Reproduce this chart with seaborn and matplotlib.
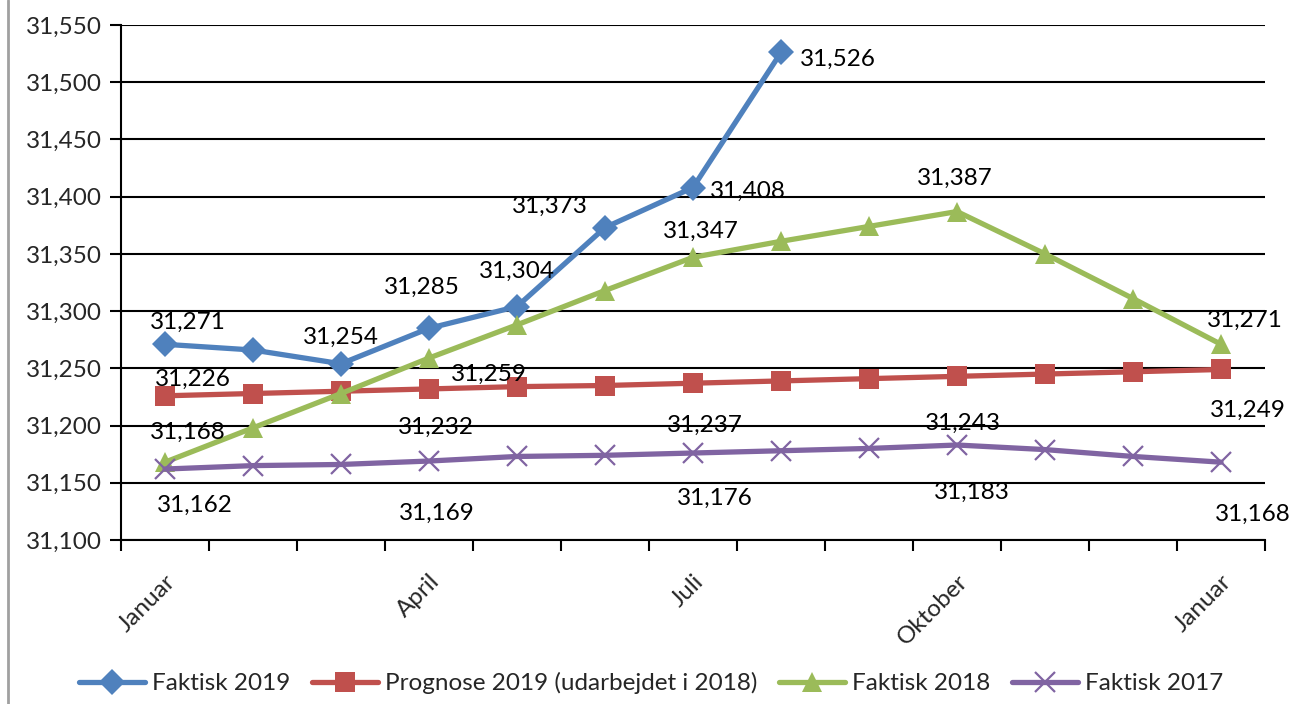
import matplotlib
matplotlib.use("Agg")
import matplotlib.pyplot as plt
import matplotlib.lines as mlines
import seaborn as sns
import pandas as pd
import numpy as np

# ---- data ----
months = ["Januar", "Februar", "Marts", "April", "Maj", "Juni", "Juli",
          "August", "September", "Oktober", "November", "December", "Januar"]
tick_label_idx = [0, 3, 6, 9, 12]

faktisk_2019 = [31271, 31266, 31254, 31285, 31304, 31373, 31408, 31526]
prognose_2019 = [31226, 31228, 31230, 31232, 31234, 31235, 31237, 31239,
                 31241, 31243, 31245, 31247, 31249]
faktisk_2018 = [31168, 31198, 31228, 31259, 31288, 31318, 31347, 31361,
                31374, 31387, 31350, 31311, 31271]
faktisk_2017 = [31162, 31165, 31166, 31169, 31173, 31174, 31176, 31178,
                31180, 31183, 31179, 31173, 31168]

series_names = ["Faktisk 2019", "Prognose 2019 (udarbejdet i 2018)",
                "Faktisk 2018", "Faktisk 2017"]

# which points carry a data label
label_idx_2019 = [0, 2, 3, 4, 5, 6, 7]
label_idx_prog = [0, 3, 6, 9, 12]
label_idx_2018 = [0, 3, 6, 9, 12]
label_idx_2017 = [0, 3, 6, 9, 12]

# ---- style / layout ----
colors = ["#4F81BD", "#C0504D", "#9BBB59", "#8064A2"]
markers = ["D", "s", "^", "x"]
msizes = [13, 15, 15, 15]
# label offsets in pixels (dx right, dy down)
off_2019 = [(23, -22), (0, -26), (-7, -41), (0, -35), (-55, -21), (55, 4), (57, 7)]
off_prog = [(28, -16), (7, 38), (12, 42), (6, 47), (27, 41)]
off_2018 = [(23, -30), (60, 16), (8, -26), (-2, -33), (24, -24)]
off_2017 = [(30, 36), (8, 52), (22, 45), (15, 47), (32, 52)]

sns.set_theme(style="white")
plt.rcParams["font.family"] = ["Lato", "DejaVu Sans"]
FS = 17.5

fig = plt.figure(figsize=(12.9, 7.04), dpi=100)
ax = fig.add_axes([121 / 1290, 1 - 540 / 704, (1265 - 121) / 1290, (540 - 25) / 704])

all_series = [faktisk_2019, prognose_2019, faktisk_2018, faktisk_2017]
handles = []
for vals, name, c, m, ms in zip(all_series, series_names, colors, markers, msizes):
    df = pd.DataFrame({"x": np.arange(len(vals)), "y": vals})
    kw = dict(markeredgecolor=c, markerfacecolor=c)
    if m == "x":
        kw["markeredgewidth"] = 1.6
    else:
        kw["markeredgewidth"] = 0
    sns.lineplot(data=df, x="x", y="y", ax=ax, color=c, linewidth=3.8,
                 marker=m, markersize=ms, zorder=3, legend=False, **kw)
    handles.append(mlines.Line2D([], [], color=c, linewidth=3.8, marker=m,
                                 markersize=ms, **kw))

def annotate(vals, idxs, offs):
    for i, (dx, dy) in zip(idxs, offs):
        ax.annotate(f"{vals[i]:,}", (i, vals[i]), xytext=(dx, -dy),
                    textcoords="offset pixels", ha="center", va="center",
                    fontsize=FS, color="black", zorder=4)

annotate(faktisk_2019, label_idx_2019, off_2019)
annotate(prognose_2019, label_idx_prog, off_prog)
annotate(faktisk_2018, label_idx_2018, off_2018)
annotate(faktisk_2017, label_idx_2017, off_2017)

ax.set_xlim(-0.5, 12.5)
ax.set_ylim(31100, 31550)
ax.set_yticks(np.arange(31100, 31551, 50))
ax.yaxis.set_major_formatter(matplotlib.ticker.FuncFormatter(lambda v, p: f"{int(v):,}"))
ax.yaxis.grid(True, color="black", linewidth=1.5)
ax.set_axisbelow(True)

ax.set_xticks(np.arange(-0.5, 12.6, 1))
ax.set_xticklabels([])
ax.set_xticks(tick_label_idx, minor=True)
ax.set_xticklabels([months[i] for i in tick_label_idx], minor=True,
                   rotation=45, ha="right", va="top", rotation_mode="anchor",
                   fontsize=FS)
ax.tick_params(axis="x", which="minor", length=0, pad=22)
ax.tick_params(axis="x", which="major", length=8, width=1.5, color="black",
               direction="out", bottom=True)
ax.tick_params(axis="y", length=8, width=1.5, color="black", direction="out",
               left=True, labelsize=FS, pad=6)
ax.set_xlabel("")
ax.set_ylabel("")
for s in ["top", "right"]:
    ax.spines[s].set_visible(False)
for s in ["left", "bottom"]:
    ax.spines[s].set_color("black")
    ax.spines[s].set_linewidth(1.5)

fig.legend(handles, series_names, loc="center", bbox_to_anchor=(0.505, 1 - 683 / 704),
           ncol=4, frameon=False, fontsize=FS, handlelength=2.7,
           columnspacing=0.9, handletextpad=0.3)

fig.add_artist(mlines.Line2D([8 / 1290, 8 / 1290], [0, 1], color="#a0a0a0",
                             linewidth=2, transform=fig.transFigure))

fig.savefig("out.png", dpi=100)
